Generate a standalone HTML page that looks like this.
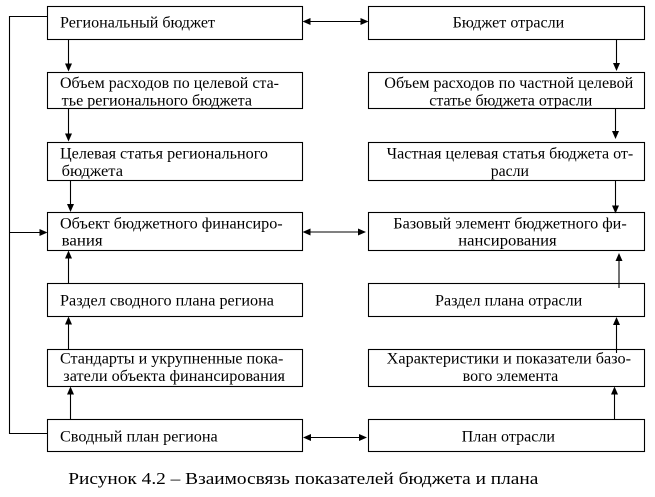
<!DOCTYPE html>
<html>
<head>
<meta charset="utf-8">
<style>
  html, body { margin: 0; padding: 0; background: #fff; }
  svg { display: block; }
  text { font-family: "Liberation Serif", "Noto Serif CJK SC", serif; font-size: 16px; fill: #000; }
</style>
</head>
<body>
<svg width="655" height="497" viewBox="0 0 655 497" xmlns="http://www.w3.org/2000/svg">
  <rect x="0" y="0" width="655" height="497" fill="#fff"/>
  <g fill="none" stroke="#000" stroke-width="1.1">
    <!-- Left boxes -->
    <rect x="47.5" y="6.5" width="255" height="33"/>
    <rect x="47.5" y="72.5" width="255" height="36"/>
    <rect x="47.5" y="142.5" width="255" height="38"/>
    <rect x="47.5" y="212.5" width="255" height="38"/>
    <rect x="47.5" y="283.5" width="255" height="33"/>
    <rect x="47.5" y="349.5" width="255" height="37"/>
    <rect x="47.5" y="419.5" width="255" height="32"/>
    <!-- Right boxes -->
    <rect x="368.5" y="6.5" width="276" height="33"/>
    <rect x="368.5" y="72.5" width="276" height="36"/>
    <rect x="368.5" y="142.5" width="276" height="38"/>
    <rect x="368.5" y="212.5" width="276" height="38"/>
    <rect x="368.5" y="283.5" width="276" height="33"/>
    <rect x="368.5" y="349.5" width="276" height="37"/>
    <rect x="368.5" y="419.5" width="276" height="32"/>

    <!-- Feedback line on left -->
    <polyline points="47.5,16.5 9.5,16.5 9.5,433.5 47.5,433.5"/>
    <line x1="9.5" y1="232.5" x2="41" y2="232.5"/>

    <!-- Horizontal double arrows -->
    <line x1="308" y1="21.5" x2="361" y2="21.5"/>
    <line x1="308" y1="232" x2="359" y2="232"/>
    <line x1="309" y1="437.5" x2="360" y2="437.5"/>

    <!-- Left down arrows -->
    <line x1="68.5" y1="39.5" x2="68.5" y2="64"/>
    <line x1="68.5" y1="108.5" x2="68.5" y2="134"/>
    <line x1="70.5" y1="180.5" x2="70.5" y2="205"/>
    <!-- Left up arrows -->
    <line x1="68.5" y1="283.5" x2="68.5" y2="257"/>
    <line x1="68.5" y1="349.5" x2="68.5" y2="323"/>
    <line x1="70.5" y1="419.5" x2="70.5" y2="393"/>
    <!-- Right down arrows -->
    <line x1="616.5" y1="39.5" x2="616.5" y2="64"/>
    <line x1="615.5" y1="108.5" x2="615.5" y2="132"/>
    <line x1="615.5" y1="180.5" x2="615.5" y2="206"/>
    <!-- Right up arrows -->
    <line x1="619" y1="288" x2="619" y2="260"/>
    <line x1="616.5" y1="353" x2="616.5" y2="324"/>
    <line x1="614.5" y1="419.5" x2="614.5" y2="393"/>
  </g>

  <g fill="#000" stroke="none">
    <!-- feedback arrowhead into row4 -->
    <polygon points="47.5,232.5 39.5,229 39.5,236"/>
    <!-- double arrows row1 -->
    <polygon points="302.5,21.5 310.5,18 310.5,25"/>
    <polygon points="368.5,21.5 360.5,18 360.5,25"/>
    <!-- row4 -->
    <polygon points="302.5,232 310.5,228.5 310.5,235.5"/>
    <polygon points="366,232 358,228.5 358,235.5"/>
    <!-- row7 -->
    <polygon points="303,437.5 311,434 311,441"/>
    <polygon points="367,437.5 359,434 359,441"/>

    <!-- left down -->
    <polygon points="68.5,71.5 65,63.5 72,63.5"/>
    <polygon points="68.5,141.5 65,133.5 72,133.5"/>
    <polygon points="70.5,212 67,204 74,204"/>
    <!-- left up -->
    <polygon points="68.5,250.5 65,258.5 72,258.5"/>
    <polygon points="68.5,316.5 65,324.5 72,324.5"/>
    <polygon points="70.5,386.5 67,394.5 74,394.5"/>
    <!-- right down -->
    <polygon points="616.5,71 613,63 620,63"/>
    <polygon points="615.5,139 612,131 619,131"/>
    <polygon points="615.5,213.5 612,205.5 619,205.5"/>
    <!-- right up -->
    <polygon points="619,253 615.5,261 622.5,261"/>
    <polygon points="616.5,317 613,325 620,325"/>
    <polygon points="614.5,386.5 611,394.5 618,394.5"/>
  </g>

  <g>
    <!-- Left column text -->
    <text x="60" y="27.5" textLength="155" lengthAdjust="spacingAndGlyphs">Региональный бюджет</text>
    <text x="60" y="88" textLength="219" lengthAdjust="spacingAndGlyphs">Объем расходов по целевой ста-</text>
    <text x="61.7" y="105.5" textLength="190.3" lengthAdjust="spacingAndGlyphs">тье регионального бюджета</text>
    <text x="60" y="158.5" textLength="208" lengthAdjust="spacingAndGlyphs">Целевая статья регионального</text>
    <text x="61.7" y="176" textLength="61.3" lengthAdjust="spacingAndGlyphs">бюджета</text>
    <text x="60" y="228.5" textLength="222.7" lengthAdjust="spacingAndGlyphs">Объект бюджетного финансиро-</text>
    <text x="61.7" y="245.5" textLength="41" lengthAdjust="spacingAndGlyphs">вания</text>
    <text x="60" y="305.5" textLength="214" lengthAdjust="spacingAndGlyphs">Раздел сводного плана региона</text>
    <text x="60" y="363.5" textLength="223.3" lengthAdjust="spacingAndGlyphs">Стандарты и укрупненные пока-</text>
    <text x="63.3" y="381" textLength="221.7" lengthAdjust="spacingAndGlyphs">затели объекта финансирования</text>
    <text x="60" y="441.5" textLength="157.7" lengthAdjust="spacingAndGlyphs">Сводный план региона</text>

    <!-- Right column text -->
    <text x="452.7" y="27.5" textLength="111.6" lengthAdjust="spacingAndGlyphs">Бюджет отрасли</text>
    <text x="384.3" y="88" textLength="249" lengthAdjust="spacingAndGlyphs">Объем расходов по частной целевой</text>
    <text x="429.3" y="105.5" textLength="163" lengthAdjust="spacingAndGlyphs">статье бюджета отрасли</text>
    <text x="386.7" y="158.5" textLength="246.6" lengthAdjust="spacingAndGlyphs">Частная целевая статья бюджета от-</text>
    <text x="490.7" y="176" textLength="38.3" lengthAdjust="spacingAndGlyphs">расли</text>
    <text x="393.3" y="228.5" textLength="233.4" lengthAdjust="spacingAndGlyphs">Базовый элемент бюджетного фи-</text>
    <text x="458.3" y="245.5" textLength="98.4" lengthAdjust="spacingAndGlyphs">нансирования</text>
    <text x="435" y="305.5" textLength="147.3" lengthAdjust="spacingAndGlyphs">Раздел плана отрасли</text>
    <text x="386.7" y="363.5" textLength="244.3" lengthAdjust="spacingAndGlyphs">Характеристики и показатели базо-</text>
    <text x="462.7" y="381" textLength="95.6" lengthAdjust="spacingAndGlyphs">вого элемента</text>
    <text x="461.7" y="441.5" textLength="93.3" lengthAdjust="spacingAndGlyphs">План отрасли</text>

    <!-- Caption -->
    <text x="68.3" y="484" style="font-size:17px" textLength="470" lengthAdjust="spacingAndGlyphs">Рисунок 4.2 – Взаимосвязь показателей бюджета и плана</text>
  </g>
</svg>
</body>
</html>
